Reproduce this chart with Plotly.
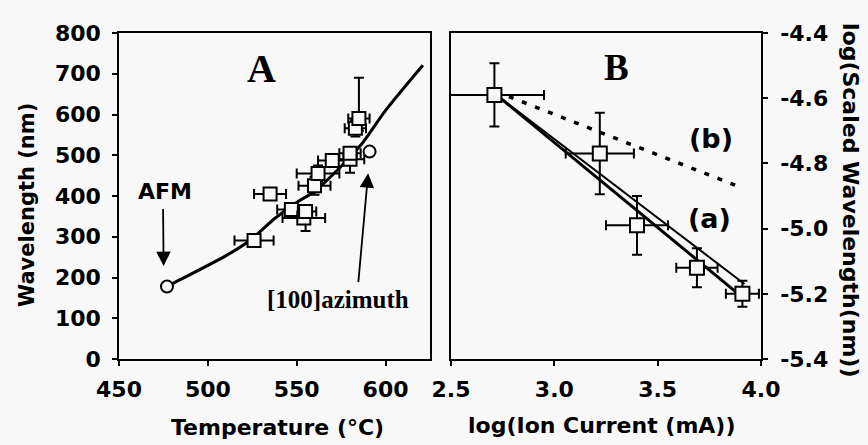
import plotly.graph_objects as go

# ---------------- Panel A data ----------------
tempA = [526, 535, 547, 554, 555, 560, 562, 570, 580, 580, 583, 585]
waveA = [291, 405, 367, 346, 362, 425, 455, 487, 490, 505, 566, 590]
tempA_err = [11, 9, 8, 12, 6, 9, 12, 8, 8, 6, 6, 6]
waveA_err_up = [8, 8, 15, 15, 15, 22, 20, 15, 15, 10, 20, 100]
waveA_err_dn = [8, 8, 15, 15, 48, 22, 20, 15, 33, 10, 20, 30]

tempCirc = [477, 591]
waveCirc = [178, 509]

fitT = [477, 481, 510, 523, 538, 551, 560, 575, 587, 600, 621]
fitW = [178, 187, 253, 289, 346, 387, 411, 473, 530, 610, 721]

# ---------------- Panel B data ----------------
logI = [2.71, 3.22, 3.40, 3.69, 3.91]
logW = [-4.59, -4.77, -4.99, -5.12, -5.20]
logI_err = [0.24, 0.165, 0.15, 0.10, 0.08]
logW_err = [0.097, 0.125, 0.09, 0.06, 0.04]

lineA1_x = [2.72, 3.89]
lineA1_y = [-4.59, -5.20]
lineA2_x = [2.72, 3.92]
lineA2_y = [-4.59, -5.17]
lineB_x = [2.78, 3.90]
lineB_y = [-4.595, -4.873]

xA_ticks = [450, 500, 550, 600]
yA_ticks = [0, 100, 200, 300, 400, 500, 600, 700, 800]
xB_ticks = [2.5, 3.0, 3.5, 4.0]
xB_text = ["2.5", "3.0", "3.5", "4.0"]
yB_ticks = [-4.4, -4.6, -4.8, -5.0, -5.2, -5.4]
yB_text = ["-4.4", "-4.6", "-4.8", "-5.0", "-5.2", "-5.4"]

W, H = 868, 445
BG = "#f8f8f8"
SANS = "DejaVu Sans"
SERIF = "Liberation Serif"
tickfont = dict(family=SANS, size=22, color="black", weight="bold")

fig = go.Figure()

# Panel A fit curve
fig.add_trace(go.Scatter(x=fitT, y=fitW, mode="lines", xaxis="x", yaxis="y",
                         line=dict(color="black", width=3, shape="spline", smoothing=0.8),
                         showlegend=False))
# Panel A squares
fig.add_trace(go.Scatter(
    x=tempA, y=waveA, mode="markers", xaxis="x", yaxis="y", showlegend=False,
    marker=dict(symbol="square", size=13, color=BG, line=dict(color="black", width=2)),
    error_x=dict(type="data", array=tempA_err, color="black", thickness=2, width=5),
    error_y=dict(type="data", array=waveA_err_up, arrayminus=waveA_err_dn,
                 color="black", thickness=2, width=5)))
# Panel A circles
fig.add_trace(go.Scatter(
    x=tempCirc, y=waveCirc, mode="markers", xaxis="x", yaxis="y", showlegend=False,
    marker=dict(symbol="circle", size=12, color=BG, line=dict(color="black", width=2))))

# Panel B lines
fig.add_trace(go.Scatter(x=lineA2_x, y=lineA2_y, mode="lines", xaxis="x2", yaxis="y2",
                         line=dict(color="black", width=2), showlegend=False))
fig.add_trace(go.Scatter(x=lineA1_x, y=lineA1_y, mode="lines", xaxis="x2", yaxis="y2",
                         line=dict(color="black", width=3), showlegend=False))
fig.add_trace(go.Scatter(x=lineB_x, y=lineB_y, mode="lines", xaxis="x2", yaxis="y2",
                         line=dict(color="black", width=3.5, dash="5px,9px"), showlegend=False))
# Panel B squares
fig.add_trace(go.Scatter(
    x=logI, y=logW, mode="markers", xaxis="x2", yaxis="y2", showlegend=False,
    marker=dict(symbol="square", size=14, color=BG, line=dict(color="black", width=2)),
    error_x=dict(type="data", array=logI_err, color="black", thickness=2, width=5),
    error_y=dict(type="data", array=logW_err, color="black", thickness=2, width=5)))

axis_common = dict(showline=True, linecolor="black", linewidth=1.5, mirror=True,
                   ticks="outside", ticklen=5, tickwidth=1.5, tickcolor="black",
                   showgrid=False, zeroline=False, tickfont=tickfont, automargin=False)

fig.update_layout(
    width=W, height=H, margin=dict(l=0, r=0, t=0, b=0, pad=0, autoexpand=False),
    paper_bgcolor=BG, plot_bgcolor=BG, showlegend=False,
    xaxis=dict(domain=[119 / W, 430 / W], range=[450, 625], tickvals=xA_ticks,
               anchor="y", ticklabelstandoff=5, **axis_common),
    yaxis=dict(domain=[1 - 359 / H, 1 - 33 / H], range=[0, 800], tickvals=yA_ticks,
               anchor="x", ticklabelstandoff=7, **axis_common),
    xaxis2=dict(domain=[451 / W, 761 / W], range=[2.5, 4.0], tickvals=xB_ticks,
                ticktext=xB_text, anchor="y2", ticklabelstandoff=5, **axis_common),
    yaxis2=dict(domain=[1 - 359 / H, 1 - 33 / H], range=[-5.4, -4.4], tickvals=yB_ticks,
                ticktext=yB_text, anchor="x2", side="right", ticklabelstandoff=8,
                **axis_common),
)

ann = []
# Panel labels
ann.append(dict(x=530, y=712, xref="x", yref="y", text="<b>A</b>", showarrow=False,
                font=dict(family=SERIF, size=40, color="black")))
ann.append(dict(x=3.30, y=-4.505, xref="x2", yref="y2", text="<b>B</b>", showarrow=False,
                font=dict(family=SERIF, size=37, color="black")))
# AFM
ann.append(dict(x=476, y=410, xref="x", yref="y", text="<b>AFM</b>", showarrow=False,
                font=dict(family=SANS, size=22, color="black")))
ann.append(dict(x=475.1, y=228, ax=474.8, ay=372, xref="x", yref="y", axref="x", ayref="y",
                text="", showarrow=True, arrowhead=2, arrowsize=1.6, arrowwidth=1.8,
                arrowcolor="black"))
# [100]azimuth
ann.append(dict(x=573.5, y=145, xref="x", yref="y", text="<b>[100]azimuth</b>",
                showarrow=False, font=dict(family=SERIF, size=25, color="black")))
ann.append(dict(x=590.2, y=456, ax=584.6, ay=185, xref="x", yref="y", axref="x", ayref="y",
                text="", showarrow=True, arrowhead=2, arrowsize=1.6, arrowwidth=1.8,
                arrowcolor="black"))
# (a), (b)
ann.append(dict(x=3.757, y=-4.724, xref="x2", yref="y2", text="<b>(b)</b>", showarrow=False,
                font=dict(family=SANS, size=27, color="black")))
ann.append(dict(x=3.749, y=-4.97, xref="x2", yref="y2", text="<b>(a)</b>", showarrow=False,
                font=dict(family=SANS, size=27, color="black")))
# Axis titles
ann.append(dict(x=27 / W, y=1 - 205 / H, xref="paper", yref="paper", text="<b>Wavelength (nm)</b>",
                textangle=-90, showarrow=False, font=dict(family=SANS, size=21, color="black"),
                xanchor="center", yanchor="middle", borderpad=0))
ann.append(dict(x=277 / W, y=1 - 427 / H, xref="paper", yref="paper",
                text="<b>Temperature (°C)</b>", showarrow=False,
                font=dict(family=SANS, size=22, color="black"),
                xanchor="center", yanchor="middle", borderpad=0))
ann.append(dict(x=601 / W, y=1 - 425 / H, xref="paper", yref="paper",
                text="<b>log(Ion Current (mA))</b>", showarrow=False,
                font=dict(family=SANS, size=22, color="black"),
                xanchor="center", yanchor="middle", borderpad=0))
ann.append(dict(x=851 / W, y=1 - 200 / H, xref="paper", yref="paper",
                text="<b>log(Scaled Wavelength(nm))</b>", textangle=90, showarrow=False,
                font=dict(family=SANS, size=22, color="black"),
                xanchor="center", yanchor="middle", borderpad=0))
fig.update_layout(annotations=ann)

fig.write_html("out.html", config={"displayModeBar": False},
               post_script="document.body.style.margin='0';document.body.style.background='#f8f8f8';")
